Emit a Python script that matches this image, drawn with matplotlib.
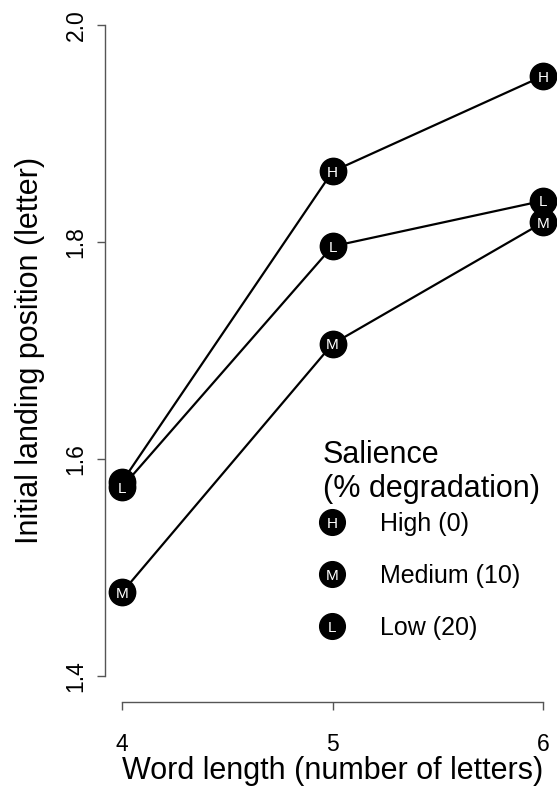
import numpy as np
import matplotlib.pyplot as plt
from matplotlib.lines import Line2D

plt.rcParams['font.family'] = ['Liberation Sans', 'DejaVu Sans']

word_length = [4, 5, 6]
high = [1.579, 1.865, 1.953]
medium = [1.477, 1.706, 1.818]
low = [1.574, 1.796, 1.838]
series = [("H", high), ("L", low), ("M", medium)]
legend_letters = ["H", "M", "L"]
legend_labels = ["High (0)", "Medium (10)", "Low (20)"]
legend_title = "Salience\n(% degradation)"

W, H = 557, 791
fig = plt.figure(figsize=(W / 100, H / 100), dpi=100)
ax = fig.add_axes([105 / W, (H - 702) / H, 455 / W, 703 / H])

# draw in order so later series sit on top (L over H at 4, M over L at 6)
for i, (letter, vals) in enumerate(series):
    ax.plot(word_length, vals, color="black", lw=1.6, marker="o", ms=19,
            mfc="black", mec="black", clip_on=False, zorder=3 + 2 * i)
    for x, y in zip(word_length, vals):
        ax.text(x, y, letter, color="white", fontsize=11, ha="center",
                va="center_baseline", zorder=4 + 2 * i)

ax.set_xlim(3.919, 6.081)
ax.set_ylim(1.376, 2.024)
ax.spines["top"].set_visible(False)
ax.spines["right"].set_visible(False)
for s in ["left", "bottom"]:
    ax.spines[s].set_color("#555555")
    ax.spines[s].set_linewidth(1.0)
ax.spines["left"].set_bounds(1.4, 2.0)
ax.spines["bottom"].set_bounds(4, 6)
ax.set_xticks([4, 5, 6])
ax.set_yticks([1.4, 1.6, 1.8, 2.0])
ax.set_yticklabels(["1.4", "1.6", "1.8", "2.0"], rotation=90, va="center")
ax.tick_params(axis="both", direction="out", length=5.5, width=1.0,
               color="#555555", labelsize=16.5)
ax.tick_params(axis="x", pad=17)
ax.tick_params(axis="y", pad=7)
ax.set_xlabel("Word length (number of letters)", fontsize=22, labelpad=0)
ax.set_ylabel("Initial landing position (letter)", fontsize=22, labelpad=14)

# legend
fx = lambda px: px / W
fy = lambda py: 1 - py / H
fig.text(fx(323), fy(472), legend_title, fontsize=22, ha="left",
         va="center", linespacing=1.2)
for i, (let, lab) in enumerate(zip(legend_letters, legend_labels)):
    yy = 522 + i * 52
    fig.add_artist(Line2D([fx(332)], [fy(yy)], marker="o", ms=18.5,
                          color="black", transform=fig.transFigure))
    fig.text(fx(332), fy(yy), let, color="white", fontsize=11,
             ha="center", va="center_baseline")
    fig.text(fx(380), fy(yy), lab, fontsize=18, ha="left",
             va="center_baseline")

fig.savefig("out.png", dpi=100)
